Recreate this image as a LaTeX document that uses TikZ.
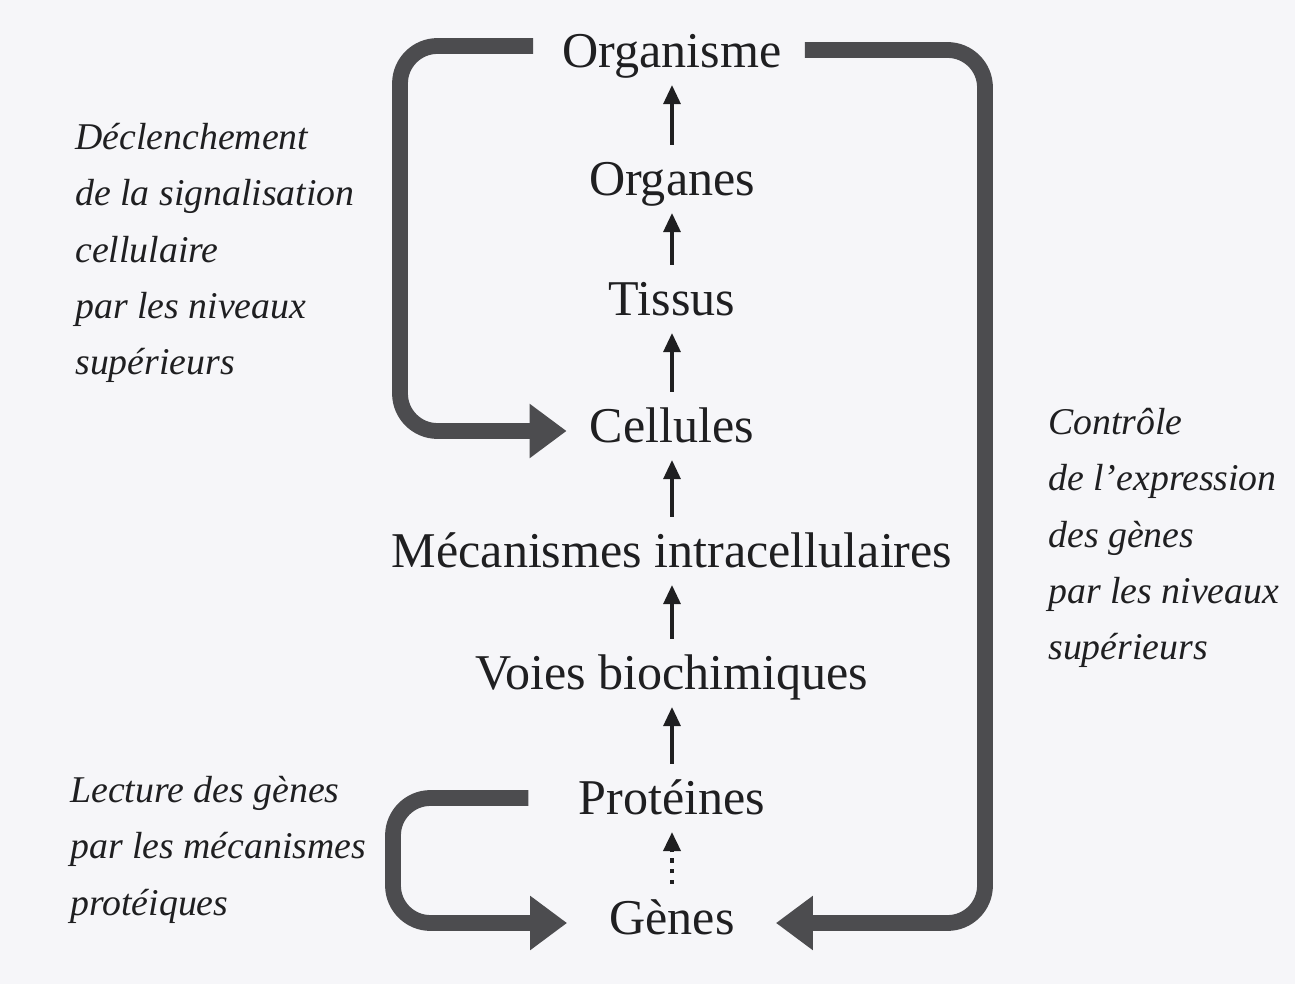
\documentclass[tikz,border=0pt]{standalone}
\usepackage{fontspec}
\setmainfont{Liberation Serif}
\usetikzlibrary{arrows.meta,positioning}

\definecolor{paper}{rgb}{0.965,0.965,0.975}
\definecolor{railgray}{rgb}{0.30,0.30,0.31}
\definecolor{ink}{rgb}{0.12,0.12,0.13}

\tikzset{
  niveau/.style={inner sep=0pt, text height=20pt, text depth=7pt,
    font=\fontsize{28.5}{34}\selectfont, text=ink},
  legende/.style={inner sep=0pt, anchor=north west, align=left,
    font={\fontsize{21.5}{32}\selectfont\itshape}, text=ink},
  monte/.style={draw=ink, line width=1.8pt,
    -{Triangle[length=0.38cm,width=0.34cm]},
    shorten <=0.3cm, shorten >=0.1cm},
  boucle/.style={draw=railgray, line width=9pt, rounded corners=0.75cm,
    -{Triangle[length=0.74cm,width=1.04cm]}},
}

\begin{document}
\begin{tikzpicture}
  \fill[paper] (0,0) rectangle (25.9,19.68);
  \useasboundingbox (0,0) rectangle (25.9,19.68);

  % levels, bottom to top
  \node[niveau] (organisme) at (13.44,18.56) {Organisme};
  \node[niveau] (organes) at (13.44,16.0) {Organes};
  \node[niveau] (tissus) at (13.44,13.6) {Tissus};
  \node[niveau] (cellules) at (13.44,11.06) {Cellules};
  \node[niveau] (mecanismes) at (13.44,8.56) {Mécanismes intracellulaires};
  \node[niveau] (voies) at (13.44,6.12) {Voies biochimiques};
  \node[niveau] (proteines) at (13.44,3.62) {Protéines};
  \node[niveau] (genes) at (13.44,1.22) {Gènes};

  \draw[monte] (organes) -- (organisme);
  \draw[monte] (tissus) -- (organes);
  \draw[monte] (cellules) -- (tissus);
  \draw[monte] (mecanismes) -- (cellules);
  \draw[monte] (voies) -- (mecanismes);
  \draw[monte] (proteines) -- (voies);
  \draw[monte, line width=2.2pt, dash pattern=on 2.5pt off 3.5pt] (genes) -- (proteines);

  % side texts
  \node[legende] (signal) at (1.5,17.22) {Déclenchement\\de la signalisation\\cellulaire\\par les niveaux\\supérieurs};
  \node[legende] (controle) at (20.96,11.52) {Contrôle\\de l'expression\\des gènes\\par les niveaux\\supérieurs};
  \node[legende] (lecture) at (1.4,4.16) {Lecture des gènes\\par les mécanismes\\protéiques};

  % feedback loops
  \coordinate[left=0.58cm of organisme, yshift=0.2cm] (sigstart);
  \coordinate (sigrail) at (8.0,0);
  \draw[boucle, shorten >=0.46cm] (sigstart) -| (sigrail |- cellules) -- (cellules.west);

  \coordinate[right=0.46cm of organisme, yshift=0.12cm] (ctrlstart);
  \coordinate (ctrlrail) at (19.7,0);
  \draw[boucle, shorten >=0.82cm] (ctrlstart) -| (ctrlrail |- genes) -- (genes.east);

  \coordinate[left=1.0cm of proteines, yshift=0.1cm] (lecstart);
  \coordinate (lecrail) at (7.86,0);
  \draw[boucle, shorten >=0.84cm] (lecstart) -| (lecrail |- genes) -- (genes.west);
\end{tikzpicture}
\end{document}
